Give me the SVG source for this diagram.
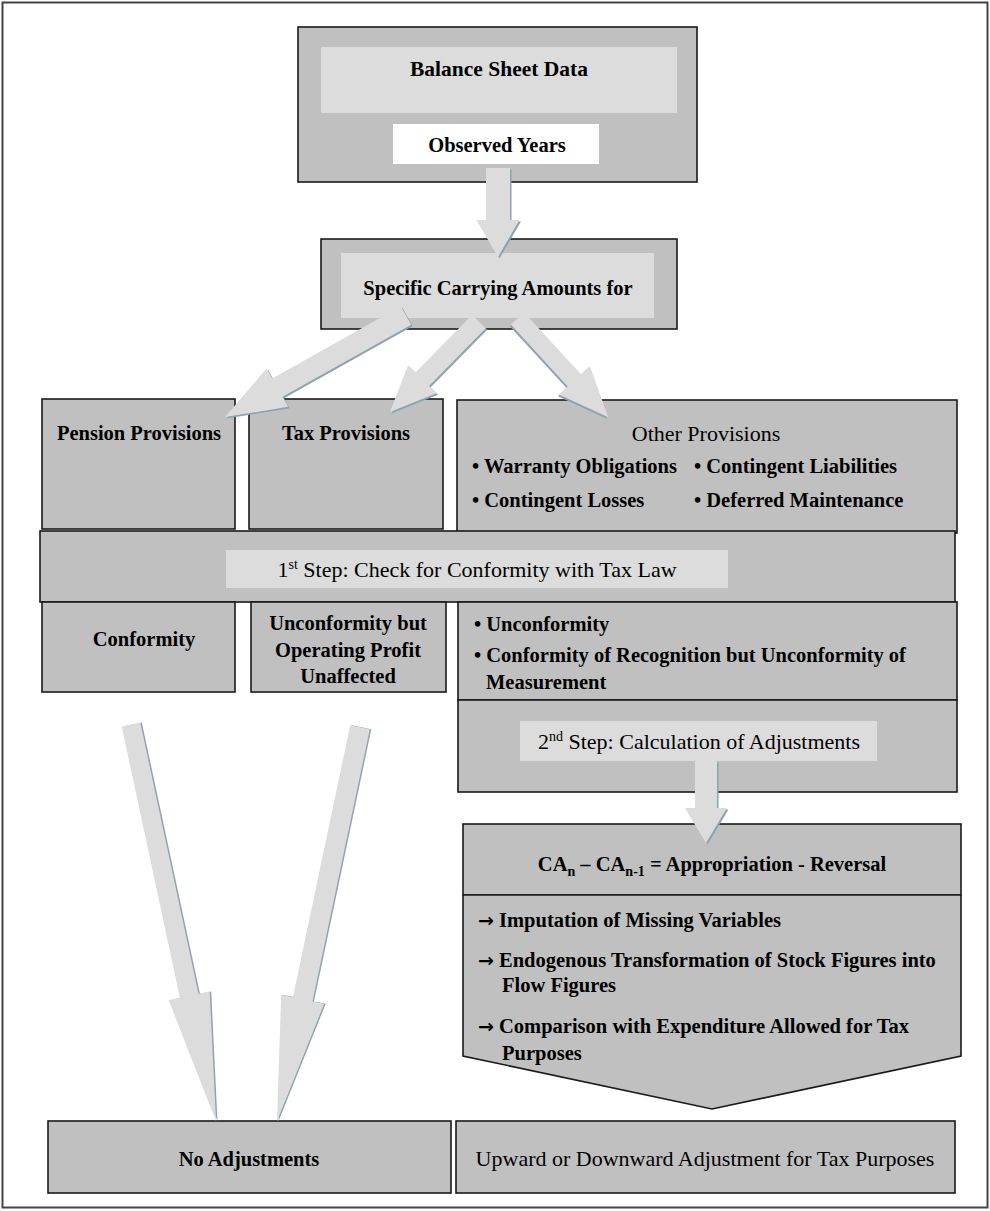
<svg xmlns="http://www.w3.org/2000/svg" xmlns:xlink="http://www.w3.org/1999/xlink" width="990" height="1211" viewBox="0 0 990 1211">
<style>
.box{fill:#c0c0c0;stroke:#1a1a1a;stroke-width:1.6}
.inner{fill:#dcdcdc}
.white{fill:#ffffff}
.t{font-family:"Liberation Serif","Times New Roman",serif;font-size:20.5px;fill:#000}
.r{font-size:22px}
.b{font-weight:bold}
.c{text-anchor:middle}
.ar{font-family:"DejaVu Sans",sans-serif;font-weight:bold;font-size:19px}
.arrow{fill:#dcdcdc}
.shadow{fill:#8ea3ab}
</style>
<defs>
<path id="a0" transform="translate(498,168) rotate(90)" d="M0,-12 H52 V-21.5 L89,0 L52,21.5 V12 H0 Z"/>
<path id="a1" transform="translate(406,315.5) rotate(150.7)" d="M0,-10.5 H147.5 V-22 L207.5,0 L147.5,22 V10.5 H0 Z"/>
<path id="a2" transform="translate(479,321.5) rotate(134.5)" d="M0,-9.5 H81 V-20 L127,0 L81,20 V9.5 H0 Z"/>
<path id="a3" transform="translate(517.5,318.5) rotate(47.4)" d="M0,-9 H84 V-21 L134,0 L84,21 V9 H0 Z"/>
<path id="a4" transform="translate(706,761) rotate(90)" d="M0,-11 H47 V-21 L82,0 L47,21 V11 H0 Z"/>
<path id="a5" transform="translate(131,724.5) rotate(77.9)" d="M0,-9.5 H277.5 V-21 L405.5,0 L277.5,21 V9.5 H0 Z"/>
<path id="a6" transform="translate(360,727.3) rotate(101.9)" d="M0,-10 H278 V-22 L402.5,0 L278,22 V10 H0 Z"/>
</defs>
<rect x="2.5" y="2.5" width="985" height="1205" fill="#ffffff" stroke="#444444" stroke-width="2"/>

<g id="balance-sheet">
<rect class="box" x="298" y="27" width="399" height="155"/>
<rect class="inner" x="321" y="47" width="356" height="66"/>
<rect class="white" x="393" y="124" width="206" height="40"/>
<text class="t b c" x="499" y="76" style="font-size:21.5px">Balance Sheet Data</text>
<text class="t b c" x="497" y="152">Observed Years</text>
</g>

<g id="specific-carrying">
<rect class="box" x="321" y="239" width="356" height="90"/>
<rect class="inner" x="341" y="253" width="313" height="65"/>
<text class="t b c" x="498" y="295">Specific Carrying Amounts for</text>
</g>

<g id="pension">
<rect class="box" x="42" y="399" width="193" height="130"/>
<text class="t b c" x="139" y="440">Pension Provisions</text>
</g>

<g id="tax">
<rect class="box" x="249" y="399" width="194" height="130"/>
<text class="t b c" x="346" y="440">Tax Provisions</text>
</g>

<g id="other">
<rect class="box" x="457" y="400" width="500" height="133"/>
<text class="t r c" x="706" y="441">Other Provisions</text>
<text class="t b" x="472" y="473">• Warranty Obligations</text>
<text class="t b" x="694" y="473">• Contingent Liabilities</text>
<text class="t b" x="472" y="507">• Contingent Losses</text>
<text class="t b" x="694" y="507">• Deferred  Maintenance</text>
</g>

<g id="step1">
<rect class="box" x="40" y="531" width="915" height="71"/>
<rect class="inner" x="226" y="550" width="502" height="38"/>
<text class="t r c" x="477" y="577">1<tspan style="font-size:14px" dy="-8">st</tspan><tspan dy="8"> Step: Check for Conformity with Tax Law</tspan></text>
</g>

<g id="conformity">
<rect class="box" x="42" y="602" width="193" height="90"/>
<text class="t b c" x="144" y="646">Conformity</text>
</g>

<g id="unconformity-unaffected">
<rect class="box" x="251" y="602" width="195" height="90"/>
<text class="t b c" x="348" y="630">Unconformity but</text>
<text class="t b c" x="348" y="657">Operating Profit</text>
<text class="t b c" x="348" y="683">Unaffected</text>
</g>

<g id="unconformity">
<rect class="box" x="458" y="602" width="499" height="98"/>
<text class="t b" x="474" y="631">• Unconformity</text>
<text class="t b" x="474" y="662">• Conformity of Recognition but Unconformity of</text>
<text class="t b" x="486" y="689">Measurement</text>
</g>

<g id="step2">
<rect class="box" x="458" y="700" width="499" height="92"/>
<rect class="inner" x="520" y="721" width="357" height="40"/>
<text class="t r c" x="699" y="749">2<tspan style="font-size:14px" dy="-8">nd</tspan><tspan dy="8"> Step: Calculation of Adjustments</tspan></text>
</g>

<g id="calculation">
<rect class="box" x="463" y="824" width="498" height="71"/>
<text class="t b c" x="712" y="871">CA<tspan style="font-size:14px" dy="5">n</tspan><tspan dy="-5"> – CA</tspan><tspan style="font-size:14px" dy="5">n-1</tspan><tspan dy="-5"> = Appropriation - Reversal</tspan></text>
<path class="box" d="M463,895 H961 V1056 L712,1109 L463,1056 Z"/>
<text class="t b" x="478" y="927"><tspan class="ar">→</tspan> Imputation of Missing Variables</text>
<text class="t b" x="478" y="967"><tspan class="ar">→</tspan> Endogenous Transformation of Stock Figures into</text>
<text class="t b" x="502" y="992">Flow Figures</text>
<text class="t b" x="478" y="1033"><tspan class="ar">→</tspan> Comparison with Expenditure Allowed for Tax</text>
<text class="t b" x="502" y="1060">Purposes</text>
</g>

<g id="no-adjustments">
<rect class="box" x="48" y="1121" width="403" height="72"/>
<text class="t b c" x="249" y="1166">No Adjustments</text>
</g>

<g id="adjustment">
<rect class="box" x="456" y="1121" width="499" height="72"/>
<text class="t r c" x="705" y="1166">Upward or Downward Adjustment for Tax Purposes</text>
</g>

<g id="connectors">
<use xlink:href="#a0" class="shadow" x="1.5" y="1.5"/><use xlink:href="#a0" class="arrow"/>
<use xlink:href="#a1" class="shadow" x="1.5" y="1.5"/><use xlink:href="#a1" class="arrow"/>
<use xlink:href="#a2" class="shadow" x="1.5" y="1.5"/><use xlink:href="#a2" class="arrow"/>
<use xlink:href="#a3" class="shadow" x="-1" y="1.8"/><use xlink:href="#a3" class="arrow"/>
<use xlink:href="#a4" class="shadow" x="1.5" y="1.5"/><use xlink:href="#a4" class="arrow"/>
<use xlink:href="#a5" class="shadow" x="1.5" y="0"/><use xlink:href="#a5" class="arrow"/>
<use xlink:href="#a6" class="shadow" x="1.5" y="0"/><use xlink:href="#a6" class="arrow"/>
</g>
</svg>
